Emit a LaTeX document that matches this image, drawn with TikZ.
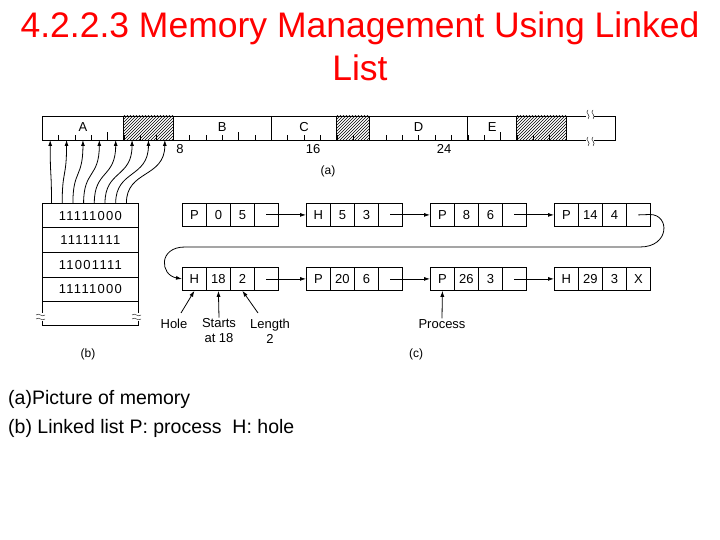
\documentclass[tikz,border=0pt]{standalone}
\usepackage{fontspec}
\setmainfont{Liberation Sans}
\usetikzlibrary{patterns,arrows.meta}
\tikzset{cell/.style={draw,thick,minimum width=24pt,minimum height=23pt,inner sep=0pt,anchor=north west,font=\fontsize{13}{13}\selectfont},
 lab/.style={font=\fontsize{13}{15}\selectfont,align=center,inner sep=1pt},
 arr/.style={-{Latex[length=6pt,width=4pt]},thick},
 hatch/.style={pattern=north east lines}}
\newcommand\lnode[7]{%
 \node[cell] (#1a) at (#2,#3) {#4};
 \node[cell] (#1b) at (#2+24,#3) {#5};
 \node[cell] (#1c) at (#2+48,#3) {#6};
 \node[cell] (#1d) at (#2+72,#3) {#7};}
\begin{document}
\begin{tikzpicture}[x=1pt,y=-1pt]
\useasboundingbox (0,0) rectangle (720,540);
\node[red,font=\fontsize{35.5}{43}\selectfont,align=center] (title) at (360,46) {4.2.2.3 Memory Management Using Linked\\List};
% memory bar
\def\u{16.375}
\fill[hatch] (42+5*\u,116) rectangle (42+8*\u,140);
\fill[hatch] (42+18*\u,116) rectangle (42+20*\u,140);
\fill[hatch] (42+29*\u,116) rectangle (42+32*\u,140);
\draw[thick] (42,116) rectangle (615,140);
\foreach \s in {5,8,14,18,20,26,29,32} \draw[thick] (42+\s*\u,116) -- (42+\s*\u,140);
\foreach \i in {1,...,31} \draw (42+\i*\u,140) -- (42+\i*\u,135);
\foreach \i in {4,12,20,28} \draw (42+\i*\u,140) -- (42+\i*\u,132);
\foreach \n/\a/\b in {A/0/5,B/8/14,C/14/18,D/20/26,E/26/29}
  \node[lab] (seg\n) at (42+\a*\u/2+\b*\u/2,127) {\n};
\node[lab] (l8) at (180,149) {8};
\node[lab] (l16) at (313,149) {16};
\node[lab] (l24) at (444,149) {24};
\node[lab,font=\fontsize{12}{12}\selectfont] (la) at (328,171) {(a)};
\fill[white] (586,112) rectangle (594,144);
\draw (588,110) .. controls (584,113) and (592,115) .. (588,119);
\draw (593,110) .. controls (589,113) and (597,115) .. (593,119);
\draw (588,137) .. controls (584,140) and (592,142) .. (588,146);
\draw (593,137) .. controls (589,140) and (597,142) .. (593,146);
% bitmap
\foreach \r/\t [count=\k from 0] in {0/11111000,1/11111111,2/11001111,3/11111000}
  \node[draw,thick,minimum width=96pt,minimum height=24.5pt,inner sep=0pt,anchor=north west,lab,font=\fontsize{13}{13}\selectfont] (bm\k) at (42,203+24.5*\r) {\addfontfeature{LetterSpace=10}\t};
\draw[thick] (42,301) -- (42,325) -- (138,325) -- (138,301);
\fill[white] (36,313) rectangle (48,321);
\fill[white] (132,313) rectangle (144,321);
\foreach \x in {42,138}{
 \draw (\x-6,315) .. controls (\x-3,312) and (\x,318) .. (\x+3,315);
 \draw (\x-6,319) .. controls (\x-3,316) and (\x,322) .. (\x+3,319);}
\foreach \i in {0,...,7}{
 \coordinate (b\i) at (51.5+\i*10.7,203);
 \coordinate (t\i) at (42+\i*\u+\u/2,140);
 \draw[arr] (b\i) .. controls (51.5+\i*10.7,170) and (42+\i*\u+\u/2,178) .. (t\i);}
\node[lab,font=\fontsize{12}{12}\selectfont] (lb) at (88,354) {(b)};
% linked list
\lnode{n1}{182}{203}{P}{0}{5}{}
\lnode{n2}{306}{203}{H}{5}{3}{}
\lnode{n3}{430}{203}{P}{8}{6}{}
\lnode{n4}{554}{203}{P}{14}{4}{}
\lnode{m1}{182}{267}{H}{18}{2}{}
\lnode{m2}{306}{267}{P}{20}{6}{}
\lnode{m3}{430}{267}{P}{26}{3}{}
\lnode{m4}{554}{267}{H}{29}{3}{X}
\foreach \a/\b in {n1/n2,n2/n3,n3/n4,m1/m2,m2/m3,m3/m4}
  \draw[arr] (\a d.center) -- (\b a.west);
\draw[arr] (n4d.center) -- (650,214.5) .. controls (670,214.5) and (670,247) .. (640,247) -- (185,247) .. controls (158,247) and (160,275) .. (m1a.west);
\node[lab] (hole) at (174,324) {Hole};
\node[lab] (starts) at (219,331) {Starts\\at 18};
\node[lab] (length) at (270,331) {Length\\2};
\node[lab] (proc) at (442,324) {Process};
\coordinate (h0) at (181,313);
\coordinate (l0) at (258,313);
\draw[arr] (h0) -- (m1a.south);
\draw[arr] (starts.north) -- (m1b.south);
\draw[arr] (l0) -- (m1c.south);
\draw[arr] (proc.north) -- (m3a.south);
\node[lab,font=\fontsize{12}{12}\selectfont] (lc) at (416,354) {(c)};
% caption
\node[anchor=west,align=left,font=\fontsize{19.5}{29}\selectfont,inner sep=0pt] (cap) at (8,414) {(a)Picture of memory\\(b) Linked list P: process\ \ H: hole};
\end{tikzpicture}
\end{document}
